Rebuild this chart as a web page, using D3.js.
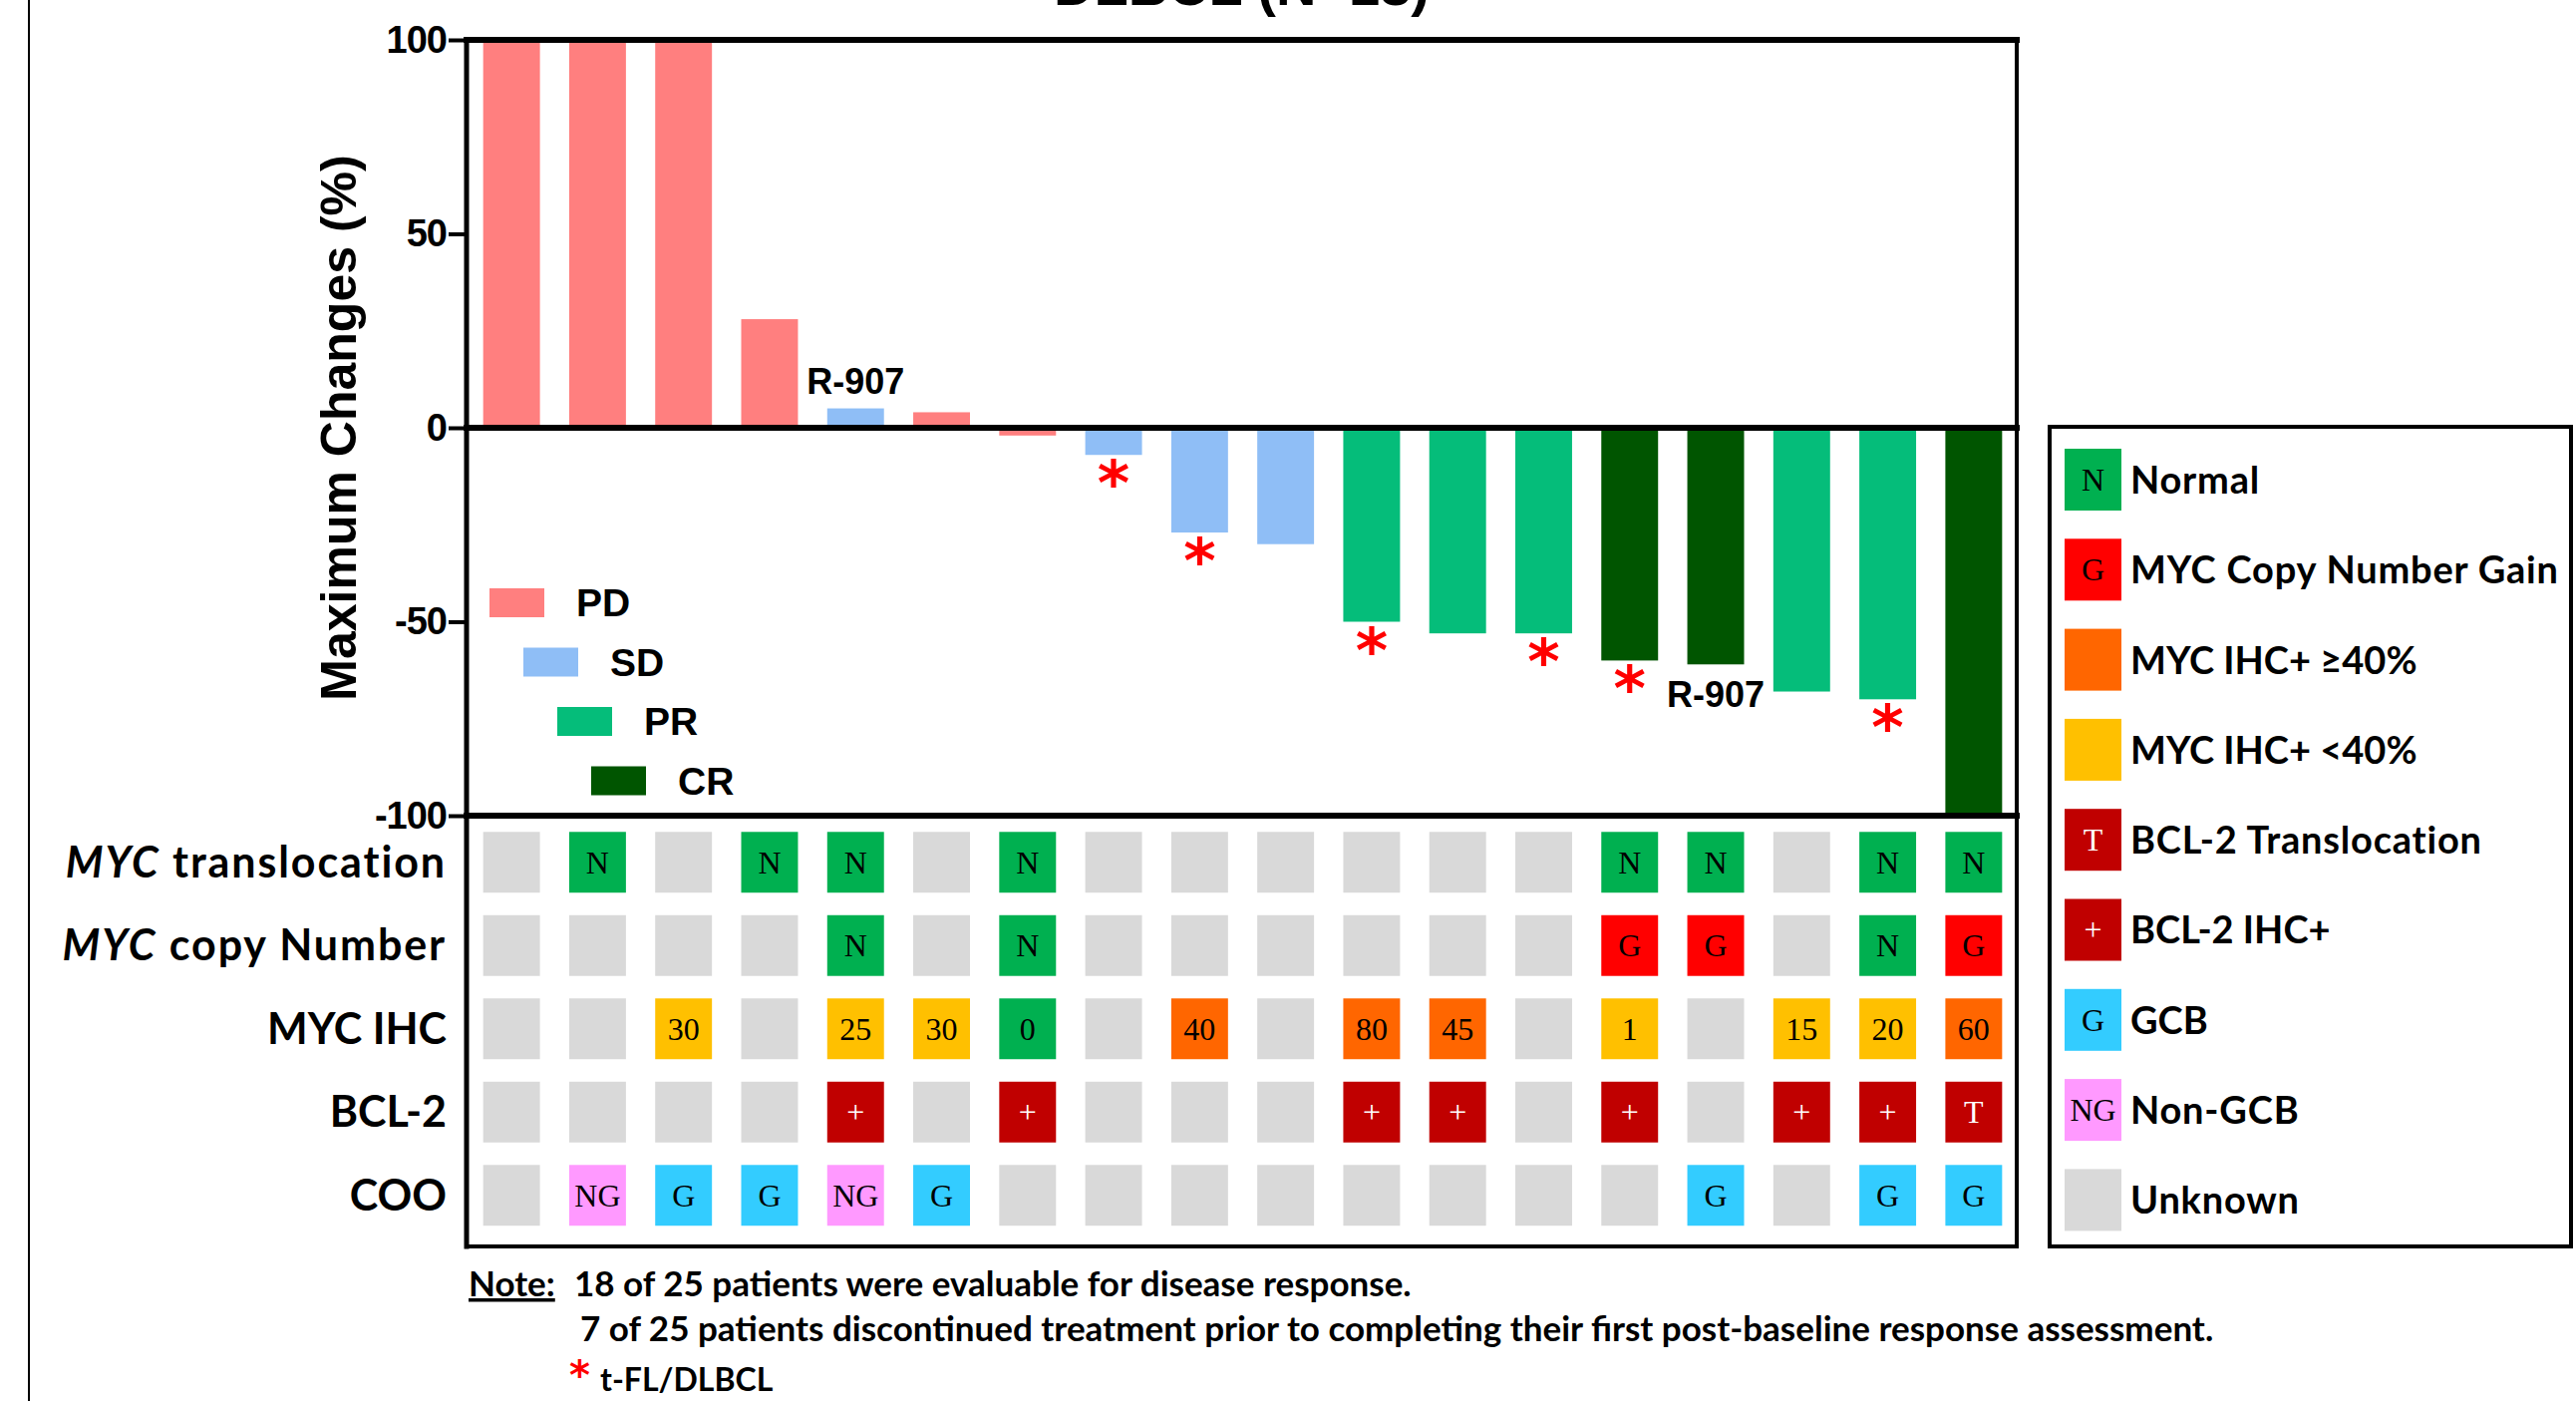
<!DOCTYPE html>
<html>
<head>
<meta charset="utf-8">
<script src="https://cdn.jsdelivr.net/npm/d3@7"></script>
<style>
  html, body { margin: 0; padding: 0; background: #fff; }
  svg { display: block; }
</style>
</head>
<body>
<div id="chart"></div>
<script>
// ---- data -------------------------------------------------------------
const patients = d3.range(1, 19).map(i => "P" + i);
const responses = ["PD","PD","PD","PD","SD","PD","PD","SD","SD","SD","PR","PR","PR","CR","CR","PR","PR","CR"];
const maxChange = [100, 100, 100, 28, 5, 4, -2, -7, -27, -30, -50, -53, -53, -60, -61, -68, -70, -100];
const transformedFL = [0,0,0,0,0,0,0,1,1,0,1,0,1,1,0,0,1,0];
const patientIds = ["", "", "", "", "R-907", "", "", "", "", "", "", "", "", "", "R-907", "", "", ""];
const idAbove = [0,0,0,0,1,0,0,0,0,0,0,0,0,0,0,0,0,0];

const responseCats = ["PD", "SD", "PR", "CR"];
const responseColors = ["#FF7F7F", "#8FBEF6", "#05BD7A", "#005500"];

const yTicks = [100, 50, 0, -50, -100];
const yTickLabels = ["100", "50", "0", "-50", "-100"];

const rowNames = ["MYC translocation", "MYC copy Number", "MYC IHC", "BCL-2", "COO"];
const rowItalicPrefix = ["MYC", "MYC", "", "", ""];
const mycTranslocation = ["U","N","U","N","N","U","N","U","U","U","U","U","U","N","N","U","N","N"];
const mycCopyNumber    = ["U","U","U","U","N","U","N","U","U","U","U","U","U","G","G","U","N","G"];
const mycIHC           = [null,null,30,null,25,30,0,null,40,null,80,45,null,1,null,15,20,60];
const bcl2             = ["U","U","U","U","+","U","+","U","U","U","+","+","U","+","U","+","+","T"];
const coo              = ["U","NG","G","G","NG","G","U","U","U","U","U","U","U","U","G","U","G","G"];

const legendKeys    = ["normal","gain","ihcHigh","ihcLow","bclT","bclPlus","gcb","nongcb","unknown"];
const legendLabels  = ["Normal","MYC Copy Number Gain","MYC IHC+ \u226540%","MYC IHC+ <40%","BCL-2 Translocation","BCL-2 IHC+","GCB","Non-GCB","Unknown"];
const legendSymbols = ["N","G","","","T","+","G","NG",""];
const legendColors  = ["#00B050","#FF0000","#FF6600","#FFC000","#C00000","#C00000","#33CCFF","#FF99FF","#D9D9D9"];
const legendInk     = ["#000","#000","#000","#000","#fff","#fff","#000","#000","#000"];

const noteLines = [
  "18 of 25 patients were evaluable for disease response.",
  "7 of 25 patients discontinued treatment prior to completing their first post-baseline response assessment.",
  "t-FL/DLBCL"
];
const titleText = "DLBCL (N=18)";
const yTitle = "Maximum Changes (%)";

// ---- helpers ----------------------------------------------------------
const fillOf = d3.scaleOrdinal().domain(legendKeys).range(legendColors);
const inkOf = d3.scaleOrdinal().domain(legendKeys).range(legendInk);
const respColor = d3.scaleOrdinal().domain(responseCats).range(responseColors);

function cellFor(row, i) {
  if (row === 0) {
    const v = mycTranslocation[i];
    return v === "N" ? {k: "normal", t: "N"} : {k: "unknown", t: ""};
  }
  if (row === 1) {
    const v = mycCopyNumber[i];
    if (v === "N") return {k: "normal", t: "N"};
    if (v === "G") return {k: "gain", t: "G"};
    return {k: "unknown", t: ""};
  }
  if (row === 2) {
    const v = mycIHC[i];
    if (v === null) return {k: "unknown", t: ""};
    if (v === 0) return {k: "normal", t: String(v)};
    return {k: v >= 40 ? "ihcHigh" : "ihcLow", t: String(v)};
  }
  if (row === 3) {
    const v = bcl2[i];
    if (v === "+") return {k: "bclPlus", t: "+"};
    if (v === "T") return {k: "bclT", t: "T"};
    return {k: "unknown", t: ""};
  }
  const v = coo[i];
  if (v === "G") return {k: "gcb", t: "G"};
  if (v === "NG") return {k: "nongcb", t: "NG"};
  return {k: "unknown", t: ""};
}
const hasLower = s => /[a-z]/.test(s);

// ---- layout -----------------------------------------------------------
const W = 2584, H = 1405;
const plotL = 468, plotR = 2023, plotT = 40, plotB = 818, heatB = 1250;
const SANS = "'Liberation Sans', Arial, sans-serif";
const HUM = "Lato, 'Open Sans', sans-serif";
const SERIF = "'Liberation Serif', 'Times New Roman', serif";
const STAR = "'DejaVu Sans', sans-serif";

const svg = d3.select("#chart").append("svg")
  .attr("width", W).attr("height", H).attr("viewBox", `0 0 ${W} ${H}`);
svg.append("rect").attr("width", W).attr("height", H).attr("fill", "#fff");

// thin frame rule at the far left
svg.append("line").attr("x1", 29).attr("x2", 29).attr("y1", 0).attr("y2", H)
  .attr("stroke", "#000").attr("stroke-width", 2);

const x = d3.scaleBand().domain(patients).range([plotL + 2, plotR])
  .paddingInner(0.34).paddingOuter(0.17);
const y = d3.scaleLinear().domain([-100, 100]).range([plotB, plotT]);

// title (runs off the top edge)
svg.append("text").attr("x", (plotL + plotR) / 2).attr("y", 5)
  .attr("text-anchor", "middle").attr("font-family", SANS).attr("font-weight", "bold")
  .attr("font-size", 56).text(titleText);

// bars
svg.append("g").selectAll("rect").data(patients).join("rect")
  .attr("x", d => x(d))
  .attr("width", x.bandwidth())
  .attr("y", (d, i) => y(Math.max(0, maxChange[i])))
  .attr("height", (d, i) => Math.abs(y(maxChange[i]) - y(0)))
  .attr("fill", (d, i) => respColor(responses[i]));

// transformed FL markers
svg.append("g").selectAll("text").data(patients.filter((d, i) => transformedFL[i]))
  .join("text")
  .attr("x", d => x(d) + x.bandwidth() / 2)
  .attr("y", d => y(maxChange[patients.indexOf(d)]) + 50)
  .attr("text-anchor", "middle").attr("font-family", STAR)
  .attr("font-weight", "bold").attr("font-size", 62).attr("fill", "#FF0000").text("*");

// patient id annotations
svg.append("g").selectAll("text").data(patients.filter((d, i) => patientIds[i]))
  .join("text")
  .attr("x", d => x(d) + x.bandwidth() / 2)
  .attr("y", d => {
    const i = patients.indexOf(d);
    return idAbove[i] ? y(maxChange[i]) - 15 : y(maxChange[i]) + 43;
  })
  .attr("text-anchor", "middle").attr("font-family", SANS).attr("font-weight", "bold")
  .attr("font-size", 36).text(d => patientIds[patients.indexOf(d)]);

// y axis
const yAxis = d3.axisLeft(y).tickValues(yTicks).tickSize(18).tickPadding(2)
  .tickFormat((d, i) => yTickLabels[i]);
const gy = svg.append("g").attr("transform", `translate(${plotL},0)`).call(yAxis);
gy.select(".domain").remove();
gy.selectAll(".tick line").attr("stroke", "#000").attr("stroke-width", 4);
gy.selectAll(".tick text").attr("font-family", SANS).attr("font-weight", "bold")
  .attr("font-size", 38).attr("fill", "#000").attr("letter-spacing", -1);

svg.append("text")
  .attr("transform", `translate(357,${y(0)}) rotate(-90)`)
  .attr("text-anchor", "middle").attr("font-family", SANS).attr("font-weight", "bold")
  .attr("font-size", 50).text(yTitle);

// frame lines
const frame = svg.append("g").attr("stroke", "#000").attr("stroke-linecap", "square");
frame.append("line").attr("x1", plotL).attr("x2", plotR).attr("y1", y(100)).attr("y2", y(100)).attr("stroke-width", 6);
frame.append("line").attr("x1", plotL).attr("x2", plotR).attr("y1", y(0)).attr("y2", y(0)).attr("stroke-width", 6);
frame.append("line").attr("x1", plotL).attr("x2", plotR).attr("y1", y(-100)).attr("y2", y(-100)).attr("stroke-width", 6);
frame.append("line").attr("x1", plotL).attr("x2", plotL).attr("y1", y(100)).attr("y2", heatB).attr("stroke-width", 5);
frame.append("line").attr("x1", plotR).attr("x2", plotR).attr("y1", y(100)).attr("y2", heatB).attr("stroke-width", 4);
frame.append("line").attr("x1", plotL).attr("x2", plotR).attr("y1", heatB).attr("y2", heatB).attr("stroke-width", 4);

// response legend (staggered)
const rl = svg.append("g").selectAll("g").data(responseCats).join("g")
  .attr("transform", (d, i) => `translate(${491 + i * 34},${590 + i * 59.5})`);
rl.append("rect").attr("width", 55).attr("height", 29).attr("fill", d => respColor(d));
rl.append("text").attr("x", 87).attr("y", 28).attr("font-family", SANS)
  .attr("font-weight", "bold").attr("font-size", 39).text(d => d);

// annotation heatmap
const yr = d3.scaleBand().domain(rowNames).range([823, 1240.5])
  .paddingInner(0.27).paddingOuter(0.135);
const rowsG = svg.append("g").selectAll("g").data(rowNames).join("g")
  .attr("transform", d => `translate(0,${yr(d)})`);
rowsG.each(function(rn, r) {
  const g = d3.select(this);
  const cells = g.selectAll("g").data(patients).join("g")
    .attr("transform", d => `translate(${x(d)},0)`);
  cells.append("rect").attr("width", x.bandwidth()).attr("height", yr.bandwidth())
    .attr("fill", (d, i) => fillOf(cellFor(r, i).k));
  cells.append("text").attr("x", x.bandwidth() / 2).attr("y", yr.bandwidth() / 2 + 11)
    .attr("text-anchor", "middle").attr("font-family", SERIF).attr("font-size", 32)
    .attr("fill", (d, i) => inkOf(cellFor(r, i).k))
    .text((d, i) => cellFor(r, i).t);
  const lbl = g.append("text").attr("x", 448).attr("y", yr.bandwidth() / 2 + 15)
    .attr("text-anchor", "end").attr("font-family", HUM).attr("font-weight", "bold")
    .attr("font-size", 43).attr("letter-spacing", hasLower(rn) ? 1.9 : 0);
  if (rowItalicPrefix[r]) {
    lbl.append("tspan").attr("font-style", "italic").text(rowItalicPrefix[r]);
    lbl.append("tspan").text(rn.slice(rowItalicPrefix[r].length));
  } else {
    lbl.text(rn);
  }
});

// category legend
svg.append("rect").attr("x", 2056).attr("y", 428).attr("width", 523).attr("height", 822)
  .attr("fill", "none").attr("stroke", "#000").attr("stroke-width", 4);
const ly = d3.scaleBand().domain(legendKeys).range([450, 1234.7]).paddingInner(0.31).paddingOuter(0);
const li = svg.append("g").selectAll("g").data(legendKeys).join("g")
  .attr("transform", d => `translate(2071,${ly(d)})`);
li.append("rect").attr("width", 57).attr("height", 62).attr("fill", d => fillOf(d));
li.append("text").attr("x", 28.5).attr("y", 42).attr("text-anchor", "middle")
  .attr("font-family", SERIF).attr("font-size", 32)
  .attr("fill", d => inkOf(d)).text((d, i) => legendSymbols[i]);
li.append("text").attr("x", 66).attr("y", 45).attr("font-family", HUM)
  .attr("font-weight", "bold").attr("font-size", 38)
  .attr("letter-spacing", (d, i) => hasLower(legendLabels[i]) ? 0.8 : 0)
  .text((d, i) => legendLabels[i]);

// footnotes
const notes = svg.append("g").attr("font-family", HUM).attr("font-weight", "bold").attr("font-size", 35);
notes.append("text").attr("x", 470).attr("y", 1300).attr("text-decoration", "underline").text("Note:");
notes.append("text").attr("x", 576).attr("y", 1300).text(noteLines[0]);
notes.append("text").attr("x", 582).attr("y", 1345).text(noteLines[1]);
notes.append("text").attr("x", 571).attr("y", 1393).attr("fill", "#FF0000")
  .attr("font-family", STAR).attr("font-weight", "bold").attr("font-size", 40).text("*");
notes.append("text").attr("x", 602).attr("y", 1395).attr("font-size", 32).text(noteLines[2]);
</script>
</body>
</html>
